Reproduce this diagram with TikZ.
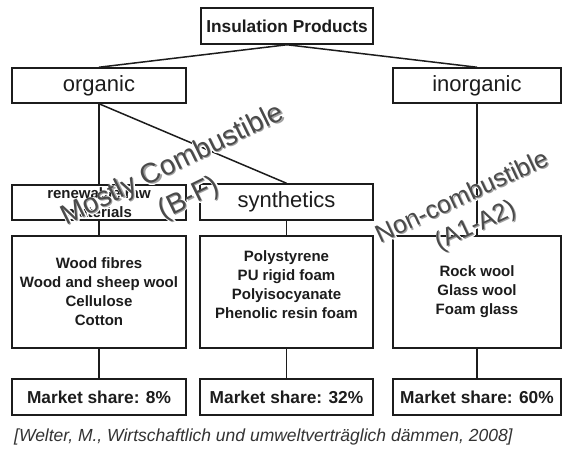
\documentclass[tikz,border=0pt]{standalone}
\usepackage{fontspec}
\setmainfont{Liberation Sans}
\usepackage[copies]{contour}
\contourlength{0.9pt}
\definecolor{ink}{HTML}{1C1C1C}
\definecolor{wmink}{HTML}{4A4A4A}
\definecolor{wmshadow}{HTML}{A0A0A0}
\begin{document}
\begin{tikzpicture}[x=1pt,y=-1pt,
  box/.style={draw=ink, line width=1.5pt, inner sep=0pt, anchor=center, text=ink, align=center},
  conn/.style={draw=ink, line width=1.5pt},
  headfont/.style={font=\fontsize{17.3}{20}\selectfont\bfseries},
  catfont/.style={font=\fontsize{22}{25}\selectfont},
  listfont/.style={font=\fontsize{15}{19}\selectfont\bfseries},
  wmbig/.style={font=\fontsize{28}{37}\selectfont, rotate=26, align=center},
  wmsmall/.style={font=\fontsize{25}{31}\selectfont, rotate=25, align=center}
]
\useasboundingbox (0,0) rectangle (565,450);
\fill[white] (0,0) rectangle (565,450);

% top
\node[box, headfont, minimum width=172pt, minimum height=36pt] (top) at (287,26) {Insulation Products};
% level 1
\node[box, catfont, minimum width=174pt, minimum height=35pt] (organic) at (99,85.5) {organic};
\node[box, catfont, minimum width=168pt, minimum height=35pt] (inorganic) at (477,85.5) {inorganic};
% level 2
\node[box, listfont, minimum width=174pt, minimum height=35pt] (renew) at (99,202.5) {renewable raw\\materials};
\node[box, catfont, minimum width=173pt, minimum height=36pt] (synth) at (286.5,202) {synthetics};
% level 3
\node[box, listfont, minimum width=174pt, minimum height=112pt] (m1) at (99,292) {Wood fibres\\Wood and sheep wool\\Cellulose\\Cotton};
\node[box, minimum width=173pt, minimum height=112pt] (m2) at (286.5,292) {};
\node[listfont, text=ink, align=center] (m2text) at (286.5,285) {Polystyrene\\PU rigid foam\\Polyisocyanate\\Phenolic resin foam};
\node[box, listfont, minimum width=168pt, minimum height=112pt] (m3) at (477,292) {Rock wool\\Glass wool\\Foam glass};
% level 4
\node[box, headfont, minimum width=174pt, minimum height=36pt] (s1) at (99,397) {Market share: 8\%};
\node[box, headfont, minimum width=173pt, minimum height=36pt] (s2) at (286.5,397) {Market share: 32\%};
\node[box, headfont, minimum width=168pt, minimum height=36pt] (s3) at (477,397) {Market share: 60\%};

% connectors
\draw[conn] (top.south) -- (organic.north);
\draw[conn] (top.south) -- (inorganic.north);
\draw[conn] (organic.south) -- (renew.north);
\draw[conn] (organic.south) -- (synth.north);
\draw[conn] (inorganic.south) -- (m3.north);
\draw[conn] (renew.south) -- (m1.north);
\draw[conn] (synth.south) -- (m2.north);
\draw[conn] (m1.south) -- (s1.north);
\draw[conn] (m2.south) -- (s2.north);
\draw[conn] (m3.south) -- (s3.north);

% citation
\node[anchor=west, inner sep=0pt, text=black!80, font=\fontsize{17.5}{20}\selectfont\itshape] (cite) at (14,437) {[Welter, M., Wirtschaftlich und umweltverträglich dämmen, 2008]};

% watermarks
\node[wmbig, text=wmshadow] (wm1s) at (182.5,183.5) {\contour{white}{Mostly Combustible}\\\contour{white}{(B-F)}};
\node[wmbig, text=wmink] (wm1) at (181,182) {Mostly Combustible\\(B-F)};
\node[wmsmall, text=wmshadow] (wm2s) at (470.5,213.5) {\contour{white}{Non-combustible}\\\contour{white}{(A1-A2)}};
\node[wmsmall, text=wmink] (wm2) at (469,212) {Non-combustible\\(A1-A2)};
\end{tikzpicture}
\end{document}
